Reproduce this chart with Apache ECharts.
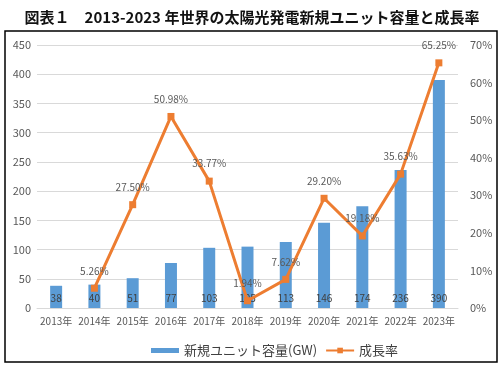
<!DOCTYPE html>
<html><head><meta charset="utf-8">
<script src="https://cdn.jsdelivr.net/npm/echarts@6/dist/echarts.min.js"></script>
<style>html,body{margin:0;padding:0;background:#fff}#c{width:504px;height:368px}</style>
</head><body><div id="c"></div>
<script>
const categories = ['2013年','2014年','2015年','2016年','2017年','2018年','2019年','2020年','2021年','2022年','2023年'];
const capacity = [38, 40, 51, 77, 103, 105, 113, 146, 174, 236, 390];
const growth = [null, 5.26, 27.50, 50.98, 33.77, 1.94, 7.62, 29.20, 19.18, 35.63, 65.25];
const titleText = '図表１　2013-2023 年世界の太陽光発電新規ユニット容量と成長率';
const seriesNames = ['新規ユニット容量(GW)', '成長率'];

const chart = echarts.init(document.getElementById('c'), null, {renderer:'canvas'});
const labelFont = '"Noto Sans CJK JP", sans-serif';
chart.setOption({
  animation: false,
  backgroundColor: '#fff',
  title: {
    text: titleText, left: 'center', top: 5,
    textStyle: {fontSize: 15, fontWeight: 'bold', color: '#111', fontFamily: labelFont}
  },
  graphic: [{
    type: 'rect', shape: {x: 5, y: 31, width: 492, height: 331},
    style: {fill: 'none', stroke: '#000', lineWidth: 1.5}, silent: true
  }],
  legend: {
    left: 146, top: 339, itemGap: 8, itemWidth: 28, itemHeight: 7,
    textStyle: {fontSize: 13, color: '#404040', fontFamily: labelFont},
    data: [{name: seriesNames[0], icon: 'path://M0,0h28v5h-28z'}, {name: seriesNames[1]}]
  },
  grid: {left: 37, right: 46, top: 45, bottom: 60},
  xAxis: {
    type: 'category', data: categories,
    axisLine: {lineStyle: {color: '#D9D9D9'}},
    axisTick: {show: false},
    axisLabel: {color: '#595959', fontSize: 10, fontFamily: labelFont, margin: 8, interval: 0}
  },
  yAxis: [{
    type: 'value', min: 0, max: 450, interval: 50,
    axisLine: {show: false}, axisTick: {show: false},
    splitLine: {lineStyle: {color: '#D9D9D9'}},
    axisLabel: {color: '#595959', fontSize: 11, fontFamily: labelFont, margin: 6}
  }, {
    type: 'value', min: 0, max: 70, interval: 10,
    axisLine: {show: false}, axisTick: {show: false}, splitLine: {show: false},
    axisLabel: {color: '#595959', fontSize: 11, fontFamily: labelFont, margin: 12, formatter: '{value}%'}
  }],
  series: [{
    name: seriesNames[0], type: 'bar', data: capacity, barWidth: 12,
    itemStyle: {color: '#5B9BD5'},
    label: {show: true, position: 'insideBottom', distance: 5, color: '#404040', fontSize: 10, fontFamily: labelFont}
  }, {
    name: seriesNames[1], type: 'line', yAxisIndex: 1, data: growth,
    lineStyle: {color: '#ED7D31', width: 3},
    itemStyle: {color: '#ED7D31'},
    symbol: 'rect', symbolSize: 7,
    label: {show: true, position: 'top', distance: 9, color: '#595959', fontSize: 10, fontFamily: labelFont,
      formatter: p => p.value.toFixed(2) + '%'}
  }]
});
</script></body></html>
